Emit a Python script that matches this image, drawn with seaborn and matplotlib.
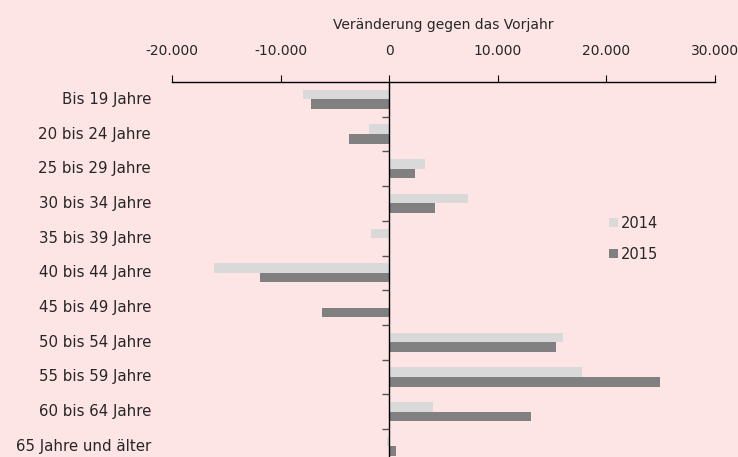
import matplotlib
matplotlib.use("Agg")
import matplotlib.pyplot as plt
import matplotlib.ticker as mticker
import matplotlib.transforms as mtransforms
import seaborn as sns
import pandas as pd

categories = ["Bis 19 Jahre", "20 bis 24 Jahre", "25 bis 29 Jahre", "30 bis 34 Jahre",
              "35 bis 39 Jahre", "40 bis 44 Jahre", "45 bis 49 Jahre", "50 bis 54 Jahre",
              "55 bis 59 Jahre", "60 bis 64 Jahre", "65 Jahre und älter"]
values_2014 = [-7950, -1870, 3300, 7290, -1670, -16110, 0, 16080, 17800, 4020, -210]
values_2015 = [-7220, -3680, 2360, 4270, 0, -11910, -6180, 15380, 25000, 13090, 630]
series = ["2014", "2015"]
x_ticks = [-20000, -10000, 0, 10000, 20000, 30000]
axis_title = "Veränderung gegen das Vorjahr"

df = pd.DataFrame({
    "Kategorie": categories * 2,
    "Wert": values_2014 + values_2015,
    "Jahr": [series[0]] * len(categories) + [series[1]] * len(categories),
})

bg = "#FDE4E5"
txt = "#262626"
sns.set_theme(style="white")
plt.rcParams["font.family"] = ["DejaVu Sans"]

fig = plt.figure(figsize=(7.38, 4.57), dpi=100, facecolor=bg)
ax = fig.add_axes([0.2331, -0.0147, 0.7351, 0.8353])
ax.set_facecolor(bg)

sns.barplot(data=df, y="Kategorie", x="Wert", hue="Jahr", order=categories,
            hue_order=series, palette=["#D9D9D9", "#808080"], orient="h",
            width=0.55, ax=ax, saturation=1, edgecolor=None, linewidth=0)

ax.set_xlim(x_ticks[0], x_ticks[-1])
ax.set_ylim(len(categories) - 0.5, -0.5)
ax.xaxis.tick_top()
ax.xaxis.set_label_position("top")
ax.set_xticks(x_ticks)
ax.xaxis.set_major_formatter(mticker.FuncFormatter(lambda v, p: f"{int(v):,}".replace(",", ".")))
ax.tick_params(axis="x", direction="out", length=5, width=0.8, color="black",
               labelsize=10, pad=12, labelcolor=txt)
ax.set_xlabel(axis_title, fontsize=10, color=txt, labelpad=11)

for s in ["bottom", "right"]:
    ax.spines[s].set_visible(False)
ax.spines["top"].set_color("black")
ax.spines["top"].set_linewidth(1.0)
ax.spines["left"].set_position(("data", 0))
ax.spines["left"].set_color("black")
ax.spines["left"].set_linewidth(1.0)

ax.set_yticks([])
ax.set_yticks([i + 0.5 for i in range(len(categories) - 1)], minor=True)
ax.tick_params(axis="y", which="minor", direction="out", length=5, width=1.0,
               color="#555555", left=True)
ax.set_ylabel("")

trans = mtransforms.blended_transform_factory(fig.transFigure, ax.transData)
for i, c in enumerate(categories):
    ax.text(151 / 738, i, c, transform=trans, ha="right", va="center",
            fontsize=10.8, color=txt)

ax.legend(loc="upper left", bbox_to_anchor=(0.795, 0.665), frameon=False,
          fontsize=10.5, handlelength=0.6, handleheight=0.6, handletextpad=0.2,
          labelspacing=1.1, borderaxespad=0)

fig.savefig("out.png", dpi=100, facecolor=bg)
